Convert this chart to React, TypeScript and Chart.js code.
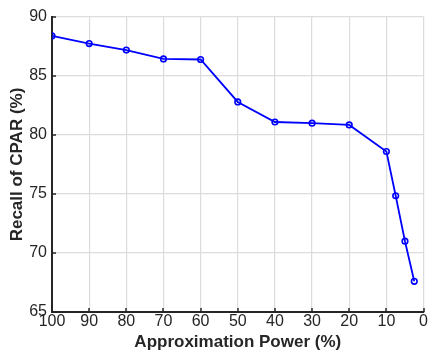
import React, { useEffect, useRef } from "react";
import { Chart, registerables } from "chart.js";

Chart.register(...registerables);

const xValues = [100, 90, 80, 70, 60, 50, 40, 30, 20, 10, 7.5, 5, 2.5];
const recall = [88.4, 87.75, 87.2, 86.45, 86.4, 82.8, 81.1, 81.0, 80.85, 78.6, 74.85, 71.0, 67.6];
const xTicks = [100, 90, 80, 70, 60, 50, 40, 30, 20, 10, 0];
const yTicks = [65, 70, 75, 80, 85, 90];

const FONT = "'Liberation Sans', Arial, Helvetica, sans-serif";

const innerTicks = {
  id: "innerTicks",
  afterDraw(chart: any) {
    const { ctx, chartArea, scales } = chart;
    ctx.save();
    ctx.strokeStyle = "#262626";
    ctx.lineWidth = 1.5;
    xTicks.forEach((v) => {
      const px = Math.round(scales.x.getPixelForValue(v));
      ctx.beginPath();
      ctx.moveTo(px, chartArea.bottom);
      ctx.lineTo(px, chartArea.bottom - 4);
      ctx.stroke();
    });
    yTicks.forEach((v) => {
      const py = Math.round(scales.y.getPixelForValue(v));
      ctx.beginPath();
      ctx.moveTo(chartArea.left, py);
      ctx.lineTo(chartArea.left + 4, py);
      ctx.stroke();
    });
    ctx.restore();
  },
};

export default function App() {
  const ref = useRef<HTMLCanvasElement | null>(null);
  useEffect(() => {
    document.body.style.margin = "0";
    const chart = new Chart(ref.current as HTMLCanvasElement, {
      type: "line",
      data: {
        datasets: [
          {
            data: xValues.map((x, i) => ({ x, y: recall[i] })),
            borderColor: "#0000ff",
            backgroundColor: "rgba(0,0,0,0)",
            borderWidth: 1.8,
            pointRadius: 2.8,
            pointBorderWidth: 1.6,
            pointBorderColor: "#0000ff",
            pointBackgroundColor: "rgba(0,0,0,0)",
            tension: 0,
          },
        ],
      },
      options: {
        animation: false,
        responsive: false,
        plugins: { legend: { display: false }, tooltip: { enabled: false } },
        layout: { padding: { top: 17, right: 6, left: 0, bottom: 0 } },
        scales: {
          x: {
            type: "linear",
            reverse: true,
            min: 0,
            max: 100,
            afterBuildTicks: (axis: any) => {
              axis.ticks = xTicks.map((v) => ({ value: v }));
            },
            afterFit: (axis: any) => {
              axis.height = 39;
            },
            grid: { color: "#dcdcdc", lineWidth: 1.2, drawTicks: false },
            border: { color: "#262626", width: 2 },
            ticks: {
              color: "#262626",
              padding: 2,
              maxRotation: 0,
              font: { family: FONT, size: 16, lineHeight: 1 },
            },
            title: {
              display: true,
              text: "Approximation Power (%)",
              color: "#262626",
              padding: { top: 0, bottom: 0 },
              font: { family: FONT, size: 17, weight: "bold", lineHeight: 1 },
            },
          },
          y: {
            min: 65,
            max: 90,
            afterBuildTicks: (axis: any) => {
              axis.ticks = yTicks.map((v) => ({ value: v }));
            },
            afterFit: (axis: any) => {
              axis.width = 52;
            },
            grid: { color: "#dcdcdc", lineWidth: 1.2, drawTicks: false },
            border: { color: "#262626", width: 2 },
            ticks: {
              color: "#262626",
              padding: 5,
              font: { family: FONT, size: 16 },
            },
            title: {
              display: true,
              text: "Recall of CPAR (%)",
              color: "#262626",
              padding: { top: 9, bottom: 0 },
              font: { family: FONT, size: 17, weight: "bold", lineHeight: 1 },
            },
          },
        },
      },
      plugins: [innerTicks],
    });
    return () => chart.destroy();
  }, []);
  return (
    <div style={{ width: 430, height: 351, background: "#fff" }}>
      <canvas ref={ref} width={430} height={351} />
    </div>
  );
}
